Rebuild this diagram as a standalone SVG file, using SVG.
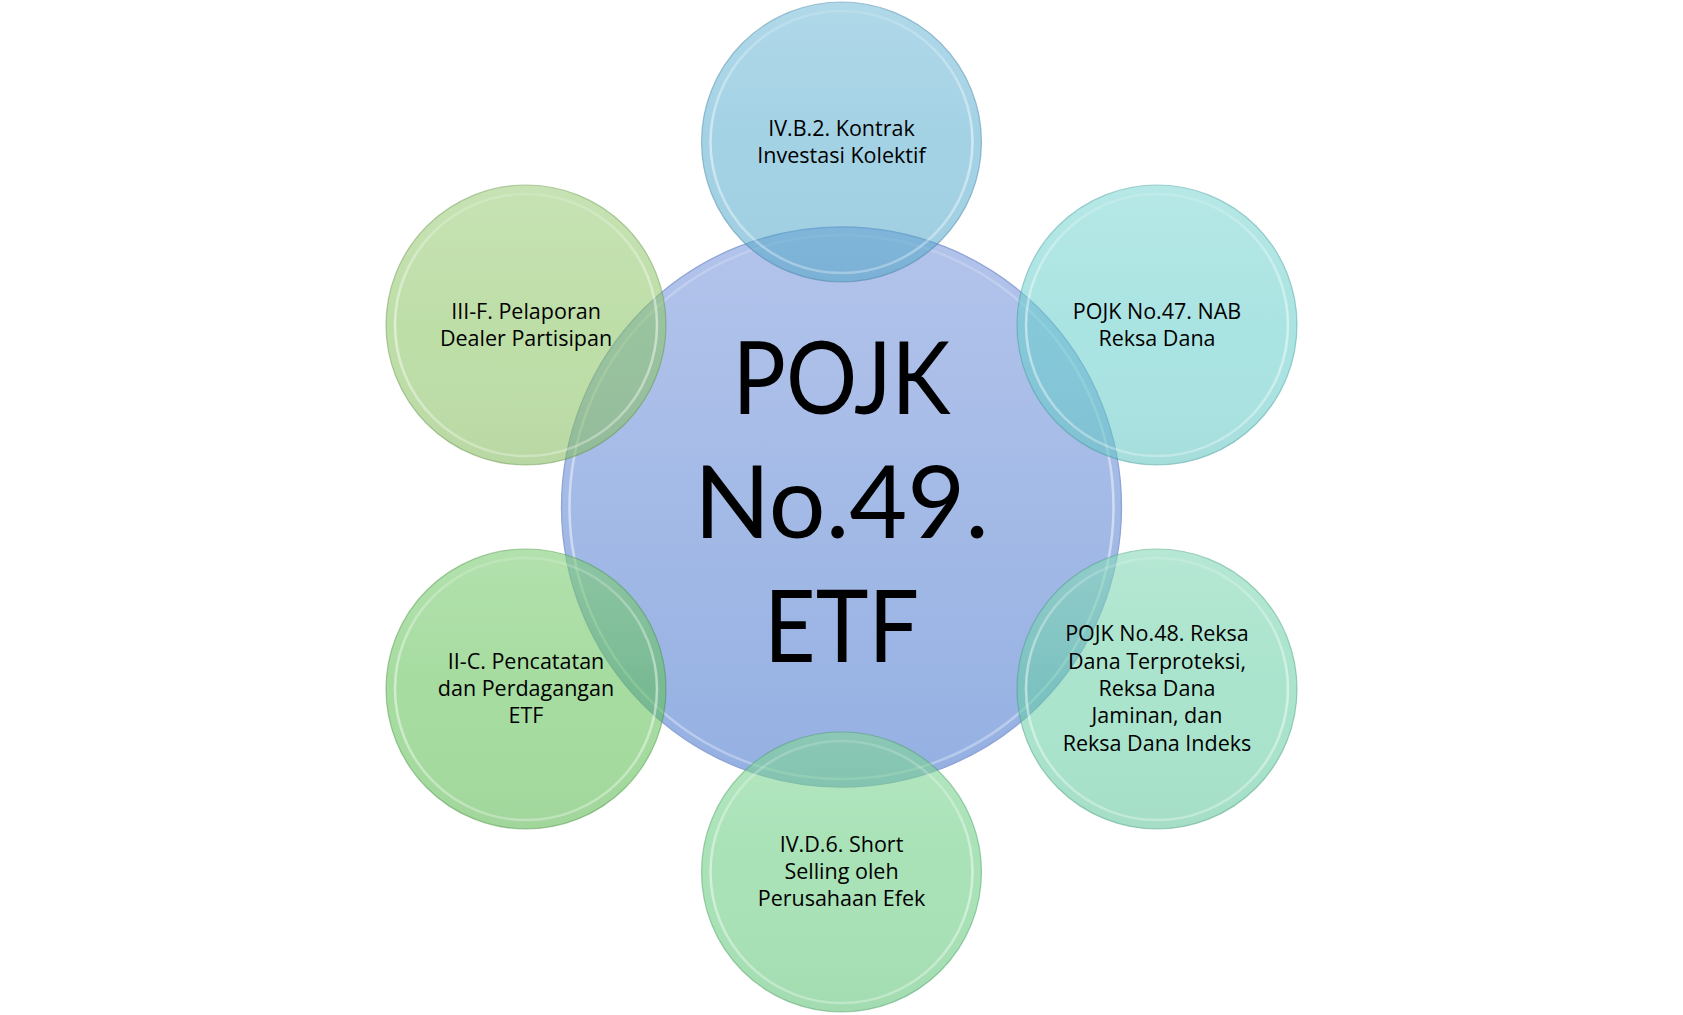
<svg xmlns="http://www.w3.org/2000/svg" width="1683" height="1015" viewBox="0 0 1683 1015">
<defs>
<linearGradient id="gCenter" x1="0" y1="0" x2="0" y2="1">
<stop offset="0" stop-color="#b3c4eb"/>
<stop offset="1" stop-color="#94b0e2"/>
</linearGradient>
<linearGradient id="gShade" x1="0" y1="0" x2="0" y2="1">
<stop offset="0" stop-color="#ffffff" stop-opacity="0.14"/>
<stop offset="0.5" stop-color="#ffffff" stop-opacity="0"/>
<stop offset="1" stop-color="#000000" stop-opacity="0.03"/>
</linearGradient>
<linearGradient id="gRing" x1="0" y1="0" x2="0" y2="1">
<stop offset="0" stop-color="#ffffff" stop-opacity="0.15"/>
<stop offset="0.5" stop-color="#ffffff" stop-opacity="0.5"/>
<stop offset="1" stop-color="#ffffff" stop-opacity="0.3"/>
</linearGradient>
</defs>
<style>
.sat { fill-opacity: 0.55; stroke-width: 1.2; stroke-opacity: 0.45; }
.ring { fill: none; stroke: url(#gRing); stroke-width: 2.5; }
.shade { fill: url(#gShade); }
.lbl { font-family: "Open Sans", "Liberation Sans", sans-serif; font-size: 21.5px; fill: #000; text-anchor: middle; }
.big { font-family: Lato, "Liberation Sans", sans-serif; font-size: 101px; fill: #000; text-anchor: middle; }
</style>
<rect width="1683" height="1015" fill="#ffffff"/>
<g id="connectors"></g>
<g id="center">
<circle cx="841.5" cy="507" r="280" fill="url(#gCenter)" stroke="#8fa4d6" stroke-width="1.3"/>
<circle class="ring" cx="841.5" cy="507" r="272"/>
<text class="big" x="841.5" y="414" textLength="218" lengthAdjust="spacingAndGlyphs">POJK</text>
<text class="big" x="841.5" y="538" textLength="295" lengthAdjust="spacingAndGlyphs">No.49.</text>
<text class="big" x="841.5" y="662" textLength="155" lengthAdjust="spacingAndGlyphs">ETF</text>
</g>
<g id="n-top">
<circle class="sat" cx="841.5" cy="142" r="140" fill="#58add0" stroke="#3b7fa0"/>
<circle class="shade" cx="841.5" cy="142" r="140"/>
<circle class="ring" cx="841.5" cy="142" r="131"/>
<text class="lbl" x="841.5" y="135.5">IV.B.2. Kontrak</text>
<text class="lbl" x="841.5" y="162.8">Investasi Kolektif</text>
</g>
<g id="n-upper-right">
<circle class="sat" cx="1157" cy="325" r="140" fill="#65cecb" stroke="#3e9a98"/>
<circle class="shade" cx="1157" cy="325" r="140"/>
<circle class="ring" cx="1157" cy="325" r="131"/>
<text class="lbl" x="1157" y="318.5">POJK No.47. NAB</text>
<text class="lbl" x="1157" y="345.8">Reksa Dana</text>
</g>
<g id="n-lower-right">
<circle class="sat" cx="1157" cy="689" r="140" fill="#65cea4" stroke="#3e9a78"/>
<circle class="shade" cx="1157" cy="689" r="140"/>
<circle class="ring" cx="1157" cy="689" r="131"/>
<text class="lbl" x="1157" y="641.4">POJK No.48. Reksa</text>
<text class="lbl" x="1157" y="668.7">Dana Terproteksi,</text>
<text class="lbl" x="1157" y="696">Reksa Dana</text>
<text class="lbl" x="1157" y="723.3">Jaminan, dan</text>
<text class="lbl" x="1157" y="750.6">Reksa Dana Indeks</text>
</g>
<g id="n-bottom">
<circle class="sat" cx="841.5" cy="872" r="140" fill="#61ca7a" stroke="#3e9a58"/>
<circle class="shade" cx="841.5" cy="872" r="140"/>
<circle class="ring" cx="841.5" cy="872" r="131"/>
<text class="lbl" x="841.5" y="851.7">IV.D.6. Short</text>
<text class="lbl" x="841.5" y="879">Selling oleh</text>
<text class="lbl" x="841.5" y="906.3">Perusahaan Efek</text>
</g>
<g id="n-lower-left">
<circle class="sat" cx="526" cy="689" r="140" fill="#5dbf52" stroke="#3f8f38"/>
<circle class="shade" cx="526" cy="689" r="140"/>
<circle class="ring" cx="526" cy="689" r="131"/>
<text class="lbl" x="526" y="668.7">II-C. Pencatatan</text>
<text class="lbl" x="526" y="696">dan Perdagangan</text>
<text class="lbl" x="526" y="723.3">ETF</text>
</g>
<g id="n-upper-left">
<circle class="sat" cx="526" cy="325" r="140" fill="#89c361" stroke="#5f9340"/>
<circle class="shade" cx="526" cy="325" r="140"/>
<circle class="ring" cx="526" cy="325" r="131"/>
<text class="lbl" x="526" y="318.5">III-F. Pelaporan</text>
<text class="lbl" x="526" y="345.8">Dealer Partisipan</text>
</g>
</svg>
